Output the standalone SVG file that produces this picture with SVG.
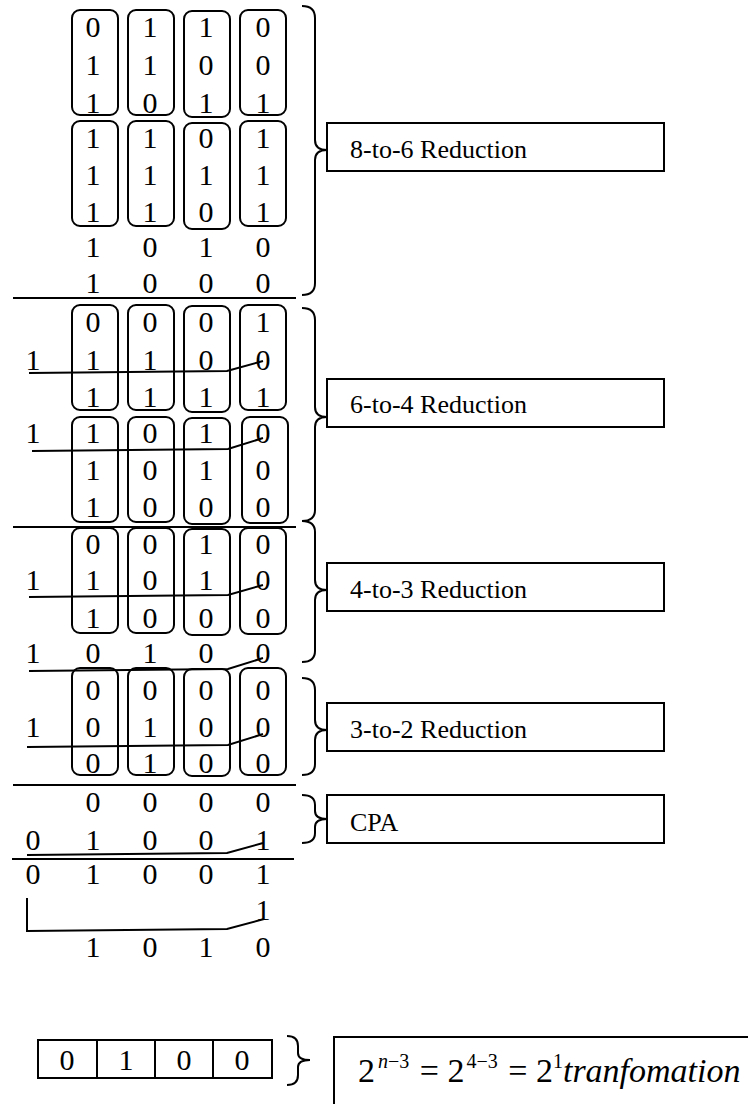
<svg xmlns="http://www.w3.org/2000/svg" width="748" height="1104" viewBox="0 0 748 1104" font-family="Liberation Serif, Times New Roman, serif">
<style>
text{fill:#000;font-family:'Liberation Serif','Times New Roman',serif}
.d{font-size:30px;text-anchor:middle}
.lbl{font-size:26px}
.col{fill:none;stroke:#000;stroke-width:2}
.box{fill:#fff;stroke:#000;stroke-width:2}
.ln{fill:none;stroke:#000;stroke-width:2}
.br{fill:none;stroke:#000;stroke-width:2}
</style>
<rect width="748" height="1104" fill="#fff"/>

<g id="section-8to6">
<rect class="col" x="72" y="10" width="46" height="105" rx="8"/>
<rect class="col" x="128" y="10" width="46" height="105" rx="8"/>
<rect class="col" x="184" y="11" width="46" height="106" rx="8"/>
<rect class="col" x="240" y="10" width="46" height="105" rx="8"/>
<rect class="col" x="72" y="121" width="46" height="105" rx="8"/>
<rect class="col" x="128" y="121" width="46" height="105" rx="8"/>
<rect class="col" x="184" y="123" width="46" height="106" rx="8"/>
<rect class="col" x="240" y="121" width="46" height="105" rx="8"/>
<text class="d" y="37"><tspan x="93">0</tspan><tspan x="150">1</tspan><tspan x="206">1</tspan><tspan x="263">0</tspan></text>
<text class="d" y="75"><tspan x="93">1</tspan><tspan x="150">1</tspan><tspan x="206">0</tspan><tspan x="263">0</tspan></text>
<text class="d" y="113"><tspan x="93">1</tspan><tspan x="150">0</tspan><tspan x="206">1</tspan><tspan x="263">1</tspan></text>
<text class="d" y="148"><tspan x="93">1</tspan><tspan x="150">1</tspan><tspan x="206">0</tspan><tspan x="263">1</tspan></text>
<text class="d" y="185"><tspan x="93">1</tspan><tspan x="150">1</tspan><tspan x="206">1</tspan><tspan x="263">1</tspan></text>
<text class="d" y="222"><tspan x="93">1</tspan><tspan x="150">1</tspan><tspan x="206">0</tspan><tspan x="263">1</tspan></text>
<text class="d" y="257"><tspan x="93">1</tspan><tspan x="150">0</tspan><tspan x="206">1</tspan><tspan x="263">0</tspan></text>
<text class="d" y="293"><tspan x="93">1</tspan><tspan x="150">0</tspan><tspan x="206">0</tspan><tspan x="263">0</tspan></text>
</g>

<g id="section-6to4">
<rect class="col" x="72" y="305" width="46" height="105" rx="8"/>
<rect class="col" x="128" y="305" width="46" height="105" rx="8"/>
<rect class="col" x="184" y="306" width="46" height="106" rx="8"/>
<rect class="col" x="240" y="305" width="46" height="105" rx="8"/>
<rect class="col" x="72" y="417" width="46" height="105" rx="8"/>
<rect class="col" x="128" y="417" width="46" height="105" rx="8"/>
<rect class="col" x="184" y="418" width="46" height="106" rx="8"/>
<rect class="col" x="242" y="417" width="46" height="106" rx="8"/>
<text class="d" y="332"><tspan x="93">0</tspan><tspan x="150">0</tspan><tspan x="206">0</tspan><tspan x="263">1</tspan></text>
<text class="d" y="370"><tspan x="33">1</tspan><tspan x="93">1</tspan><tspan x="150">1</tspan><tspan x="206">0</tspan><tspan x="263">0</tspan></text>
<text class="d" y="407"><tspan x="93">1</tspan><tspan x="150">1</tspan><tspan x="206">1</tspan><tspan x="263">1</tspan></text>
<text class="d" y="443"><tspan x="33">1</tspan><tspan x="93">1</tspan><tspan x="150">0</tspan><tspan x="206">1</tspan><tspan x="263">0</tspan></text>
<text class="d" y="480"><tspan x="93">1</tspan><tspan x="150">0</tspan><tspan x="206">1</tspan><tspan x="263">0</tspan></text>
<text class="d" y="517"><tspan x="93">1</tspan><tspan x="150">0</tspan><tspan x="206">0</tspan><tspan x="263">0</tspan></text>
</g>

<g id="section-4to3">
<rect class="col" x="72" y="528" width="46" height="105" rx="8"/>
<rect class="col" x="128" y="528" width="46" height="105" rx="8"/>
<rect class="col" x="184" y="529" width="46" height="106" rx="8"/>
<rect class="col" x="240" y="528" width="46" height="106" rx="8"/>
<text class="d" y="554"><tspan x="93">0</tspan><tspan x="150">0</tspan><tspan x="206">1</tspan><tspan x="263">0</tspan></text>
<text class="d" y="590"><tspan x="33">1</tspan><tspan x="93">1</tspan><tspan x="150">0</tspan><tspan x="206">1</tspan><tspan x="263">0</tspan></text>
<text class="d" y="628"><tspan x="93">1</tspan><tspan x="150">0</tspan><tspan x="206">0</tspan><tspan x="263">0</tspan></text>
<text class="d" y="663"><tspan x="33">1</tspan><tspan x="93">0</tspan><tspan x="150">1</tspan><tspan x="206">0</tspan><tspan x="263">0</tspan></text>
</g>

<g id="section-3to2">
<rect class="col" x="72" y="668" width="46" height="107" rx="8"/>
<rect class="col" x="128" y="668" width="46" height="107" rx="8"/>
<rect class="col" x="184" y="669" width="46" height="107" rx="8"/>
<rect class="col" x="240" y="668" width="46" height="107" rx="8"/>
<text class="d" y="700"><tspan x="93">0</tspan><tspan x="150">0</tspan><tspan x="206">0</tspan><tspan x="263">0</tspan></text>
<text class="d" y="737"><tspan x="33">1</tspan><tspan x="93">0</tspan><tspan x="150">1</tspan><tspan x="206">0</tspan><tspan x="263">0</tspan></text>
<text class="d" y="773"><tspan x="93">0</tspan><tspan x="150">1</tspan><tspan x="206">0</tspan><tspan x="263">0</tspan></text>
</g>

<g id="section-cpa">
<text class="d" y="812"><tspan x="93">0</tspan><tspan x="150">0</tspan><tspan x="206">0</tspan><tspan x="263">0</tspan></text>
<text class="d" y="850"><tspan x="33">0</tspan><tspan x="93">1</tspan><tspan x="150">0</tspan><tspan x="206">0</tspan><tspan x="263">1</tspan></text>
<text class="d" y="884"><tspan x="33">0</tspan><tspan x="93">1</tspan><tspan x="150">0</tspan><tspan x="206">0</tspan><tspan x="263">1</tspan></text>
<text class="d" y="920"><tspan x="263">1</tspan></text>
<text class="d" y="957"><tspan x="93">1</tspan><tspan x="150">0</tspan><tspan x="206">1</tspan><tspan x="263">0</tspan></text>
</g>

<g id="separators">
<line class="ln" x1="13" y1="298" x2="296" y2="298"/>
<line class="ln" x1="13" y1="527" x2="296" y2="527"/>
<line class="ln" x1="13" y1="785" x2="296" y2="785"/>
<line class="ln" x1="12" y1="859" x2="294" y2="859"/>
</g>

<g id="connectors">
<polyline class="ln" points="29,373 227,371 263,361"/>
<polyline class="ln" points="32,451 228,449 263,438"/>
<polyline class="ln" points="29,597 228,595 263,585"/>
<polyline class="ln" points="29,671 228,669 263,658"/>
<polyline class="ln" points="27,747 228,745 263,734"/>
<polyline class="ln" points="27,855 227,853 263,843"/>
<polyline class="ln" points="27,898 27,931 227,929 264,919"/>
</g>

<g id="braces">
<path class="br" d="M302,6 Q315,6 315,18 L315,140 Q315,150 327,150 Q315,150 315,160 L315,283 Q315,295 302,295"/>
<path class="br" d="M302,308 Q315,308 315,320 L315,407 Q315,417 327,417 Q315,417 315,427 L315,510 Q315,521 302,521"/>
<path class="br" d="M302,521 Q315,521 315,532 L315,580 Q315,590 327,590 Q315,590 315,600 L315,651 Q315,662 302,662"/>
<path class="br" d="M302,678 Q315,678 315,690 L315,720 Q315,730 327,730 Q315,730 315,740 L315,764 Q315,775 302,775"/>
<path class="br" d="M302,795 Q315,795 315,805 L315,811 Q315,819 327,819 Q315,819 315,827 L315,833 Q315,843 302,843"/>
<path class="br" d="M287,1036 Q298,1036 298,1046 L298,1053 Q298,1060 310,1060 Q298,1060 298,1067 L298,1075 Q298,1085 287,1085"/>
</g>

<g id="label-8to6"><rect class="box" x="327" y="123" width="337" height="48"/><text class="lbl" x="350" y="158">8-to-6 Reduction</text></g>
<g id="label-6to4"><rect class="box" x="327" y="379" width="337" height="48"/><text class="lbl" x="350" y="413">6-to-4 Reduction</text></g>
<g id="label-4to3"><rect class="box" x="327" y="563" width="337" height="48"/><text class="lbl" x="350" y="598">4-to-3 Reduction</text></g>
<g id="label-3to2"><rect class="box" x="327" y="703" width="337" height="48"/><text class="lbl" x="350" y="738">3-to-2 Reduction</text></g>
<g id="label-cpa"><rect class="box" x="327" y="795" width="337" height="48"/><text class="lbl" x="350" y="831">CPA</text></g>

<g id="result-register">
<rect class="box" x="38" y="1040" width="234" height="38"/>
<line class="ln" x1="97" y1="1040" x2="97" y2="1078"/>
<line class="ln" x1="155" y1="1040" x2="155" y2="1078"/>
<line class="ln" x1="213" y1="1040" x2="213" y2="1078"/>
<text class="d" y="1070"><tspan x="67">0</tspan><tspan x="126">1</tspan><tspan x="184">0</tspan><tspan x="242">0</tspan></text>
</g>

<g id="formula">
<rect class="box" x="334" y="1037" width="430" height="90"/>
<text x="358" y="1082" font-size="34">2<tspan dx="3" dy="-14" font-size="20" font-style="italic">n</tspan><tspan font-size="20">−3</tspan><tspan dx="2" dy="14"> = 2</tspan><tspan dx="2" dy="-14" font-size="20">4−3</tspan><tspan dx="2" dy="14"> = 2</tspan><tspan dy="-14" font-size="20">1</tspan><tspan dy="14" font-style="italic">tranfomation</tspan></text>
</g>
</svg>
